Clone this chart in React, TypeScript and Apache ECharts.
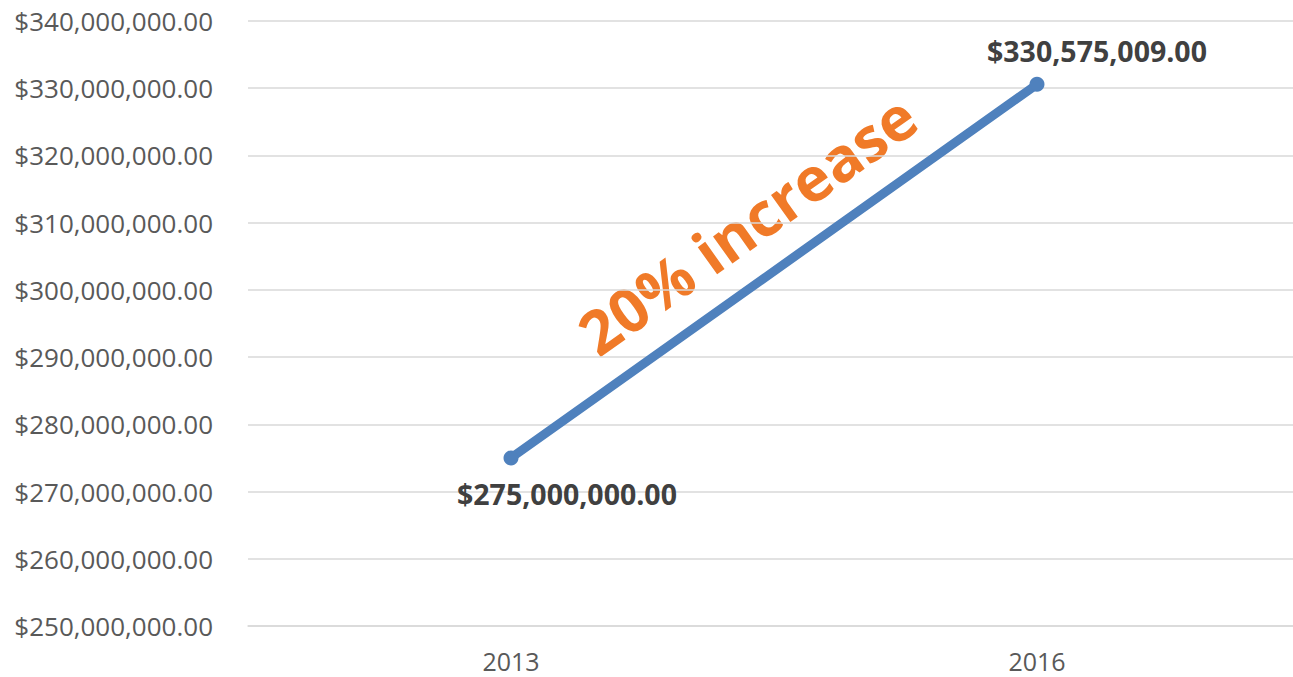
import React, { useEffect, useRef } from "react";
import * as echarts from "echarts";

const categories = ["2013", "2016"];
const values = [275000000, 330575009];
const yMin = 250000000;
const yMax = 340000000;
const yStep = 10000000;
const annotation = "20% increase";

const money = (v: number) =>
  "$" + v.toLocaleString("en-US", { minimumFractionDigits: 2, maximumFractionDigits: 2 });

export default function App() {
  const ref = useRef<HTMLDivElement>(null);
  useEffect(() => {
    if (!ref.current) return;
    const chart = echarts.init(ref.current, undefined, { renderer: "svg" });
    const font = "'Open Sans', 'Noto Sans', sans-serif";
    chart.setOption({
      animation: false,
      backgroundColor: "#ffffff",
      textStyle: { fontFamily: font },
      grid: { left: 248, top: 21, right: 0, bottom: 51, containLabel: false },
      xAxis: {
        type: "category",
        data: categories,
        boundaryGap: true,
        axisLine: { show: true, lineStyle: { color: "#D9D9D9", width: 1.5 } },
        axisTick: { show: false },
        axisLabel: { color: "#595959", fontSize: 25, margin: 22, fontFamily: font },
      },
      yAxis: {
        type: "value",
        min: yMin,
        max: yMax,
        interval: yStep,
        axisLine: { show: false },
        axisTick: { show: false },
        splitLine: { lineStyle: { color: "#D9D9D9", width: 1.5 } },
        axisLabel: {
          color: "#595959",
          fontSize: 26,
          margin: 35,
          fontFamily: font,
          formatter: (v: number) => money(v),
        },
      },
      series: [
        {
          type: "line",
          data: values.map((v, i) => ({
            value: v,
            label:
              i === 0
                ? { position: "bottom", offset: [56, 9] }
                : { position: "top", offset: [60, -6] },
          })),
          symbol: "circle",
          symbolSize: 15,
          lineStyle: { color: "#4F81BD", width: 9, cap: "round" },
          itemStyle: { color: "#4F81BD" },
          label: {
            show: true,
            fontSize: 28.5,
            fontWeight: "bold",
            color: "#404040",
            fontFamily: font,
            formatter: (p: any) => money(p.value),
          },
        },
      ],
      graphic: [
        {
          type: "text",
          x: 747,
          y: 224,
          rotation: (35.5 * Math.PI) / 180,
          style: {
            text: annotation,
            fontSize: 61,
            fontWeight: "bold",
            fontFamily: font,
            fill: "#F07A28",
            textAlign: "center",
            textVerticalAlign: "middle",
          },
        },
      ],
    });
    return () => chart.dispose();
  }, []);
  return (
    <div
      style={{
        position: "fixed",
        left: 0,
        top: 0,
        width: 1293,
        height: 677,
        overflow: "hidden",
        background: "#ffffff",
      }}
    >
      <div ref={ref} style={{ width: 1300, height: 677 }} />
    </div>
  );
}
